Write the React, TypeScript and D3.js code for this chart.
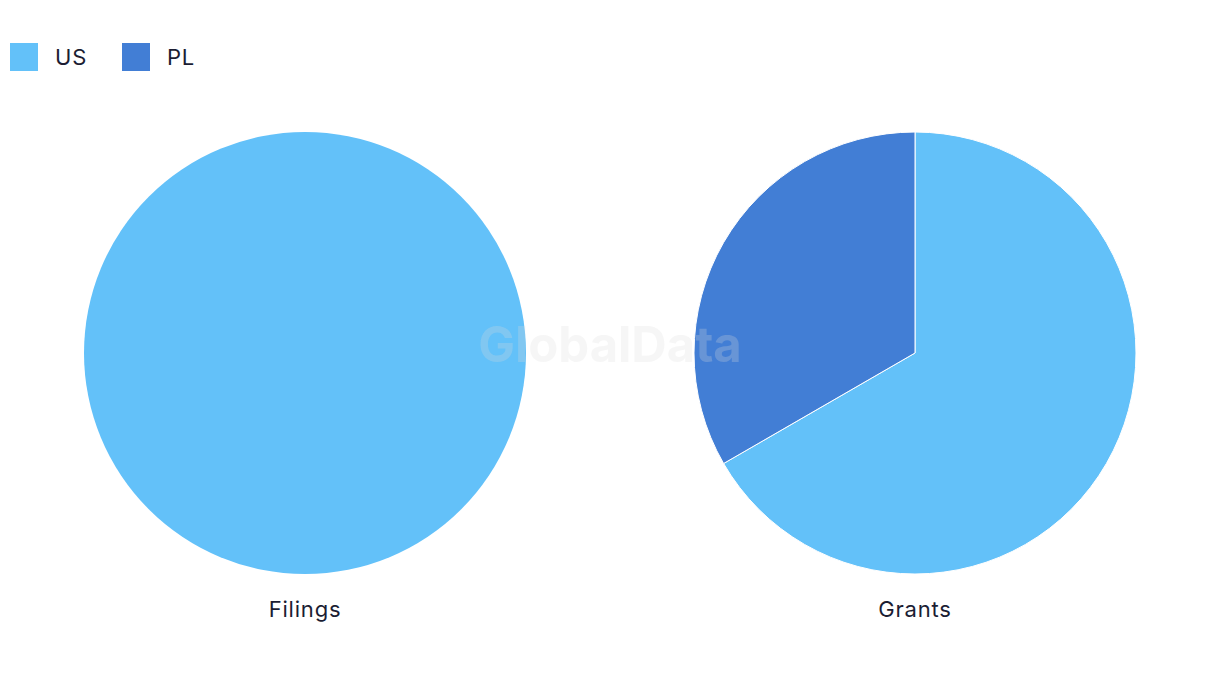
import React from "react";
import * as d3 from "d3";

const seriesNames = ["US", "PL"];
const seriesColors = ["#63C1F9", "#427ED5"];
const pieTitles = ["Filings", "Grants"];
const filingsValues = [1, 0];
const grantsValues = [2, 1];

const W = 1220;
const H = 686;

export default function App() {
  const pies = [filingsValues, grantsValues];
  const centersX = d3.scalePoint<number>().domain([0, 1]).range([305, 915]);
  const cy = 353;
  const r = 221;
  const pieGen = d3.pie<number>().sort(null).value((d) => d);
  const arcGen = d3.arc<d3.PieArcDatum<number>>().innerRadius(0).outerRadius(r);

  return (
    <svg
      width={W}
      height={H}
      style={{ position: "absolute", left: 0, top: 0, fontFamily: "Inter, 'Noto Sans', sans-serif" }}
    >
      <rect width={W} height={H} fill="#fff" />
      {seriesNames.map((name, i) => (
        <g key={name} transform={`translate(${10 + i * 112},43)`}>
          <rect width={28} height={28} fill={seriesColors[i]} />
          <text x={45} y={22} fontSize={22} letterSpacing={0.8} fill="#1b1d33">
            {name}
          </text>
        </g>
      ))}
      {pies.map((vals, pi) => {
        const cx = centersX(pi)!;
        const arcs = pieGen(vals).filter((a) => a.value > 0);
        return (
          <g key={pi}>
            <g transform={`translate(${cx},${cy})`}>
              {arcs.map((a, j) => (
                <path
                  key={j}
                  d={arcGen(a) || ""}
                  fill={seriesColors[a.index]}
                  stroke="#fff"
                  strokeWidth={arcs.length > 1 ? 1 : 0}
                />
              ))}
            </g>
            <text x={cx} y={617} textAnchor="middle" fontSize={22} letterSpacing={0.8} fill="#1b1d33">
              {pieTitles[pi]}
            </text>
          </g>
        );
      })}
      <text
        x={610}
        y={362}
        textAnchor="middle"
        fontSize={49}
        fontWeight={700}
        fill="#dcdcdc"
        fillOpacity={0.25}
      >
        GlobalData
      </text>
    </svg>
  );
}
